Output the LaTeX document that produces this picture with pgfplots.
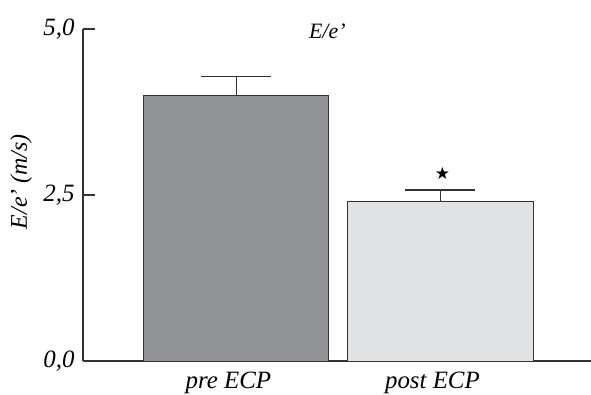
\documentclass[border=0pt]{standalone}
\usepackage{pgfplots}
\pgfplotsset{compat=1.18}
\usepackage{fontspec}
\setmainfont{Liberation Serif}
\newfontfamily\symfont{DejaVu Sans}
\usetikzlibrary{plotmarks}
\definecolor{preC}{HTML}{939497}
\definecolor{postC}{HTML}{E1E2E4}
\definecolor{axC}{HTML}{333333}
\begin{document}
\begin{tikzpicture}[x=1bp,y=1bp]
\useasboundingbox (0,0) rectangle (591,394);
\begin{axis}[
  at={(83bp,33bp)}, anchor=south west,
  scale only axis, width=508bp, height=332bp,
  xmin=-0.752, xmax=1.738, ymin=0, ymax=5,
  axis lines*=left,
  axis line style={axC, line width=1.2bp},
  ytick={0,2.5,5},
  yticklabel style={xshift=-5bp, /pgf/number format/.cd, fixed, fixed zerofill, precision=1, use comma, assume math mode=true},
  ytick style={axC, line width=1.2bp},
  major tick length=12bp, tick align=inside,
  xtick={0,1}, xticklabels={pre ECP, post ECP},
  xtick style={draw=none},
  xticklabel style={anchor=base, yshift=-27bp, xshift=-8bp},
  ticklabel style={font=\fontsize{25}{29}\selectfont\itshape},
  title={E/e’},
  title style={at={(axis description cs:0.481,1)}, anchor=base, yshift=-15bp, font=\fontsize{22}{26}\selectfont\itshape},
  ylabel={E/e’ (m/s)},
  ylabel style={at={(axis description cs:-0.122,0.54)}, anchor=center, font=\fontsize{24}{28}\selectfont\itshape},
  clip=false,
]
\addplot[ybar, bar width=185bp, bar shift=0pt, fill=preC, draw=axC, line width=0.9bp,
  error bars/.cd, y dir=plus, y explicit,
  error bar style={axC, line width=1.2bp},
  error mark options={axC, line width=1.2bp, mark size=35bp, rotate=90}]
  coordinates {(0,4.0) +- (0,0.29)};
\addplot[ybar, bar width=185bp, bar shift=0pt, fill=postC, draw=axC, line width=0.9bp,
  error bars/.cd, y dir=plus, y explicit,
  error bar style={axC, line width=1.2bp},
  error mark options={axC, line width=1.2bp, mark size=35bp, rotate=90}]
  coordinates {(1,2.40) +- (0,0.175)};
\addplot[only marks, black, mark=text, text mark={\symfont\fontsize{17}{17}\selectfont ★}]
  coordinates {(1.01,2.83)};
\end{axis}
\end{tikzpicture}
\end{document}
